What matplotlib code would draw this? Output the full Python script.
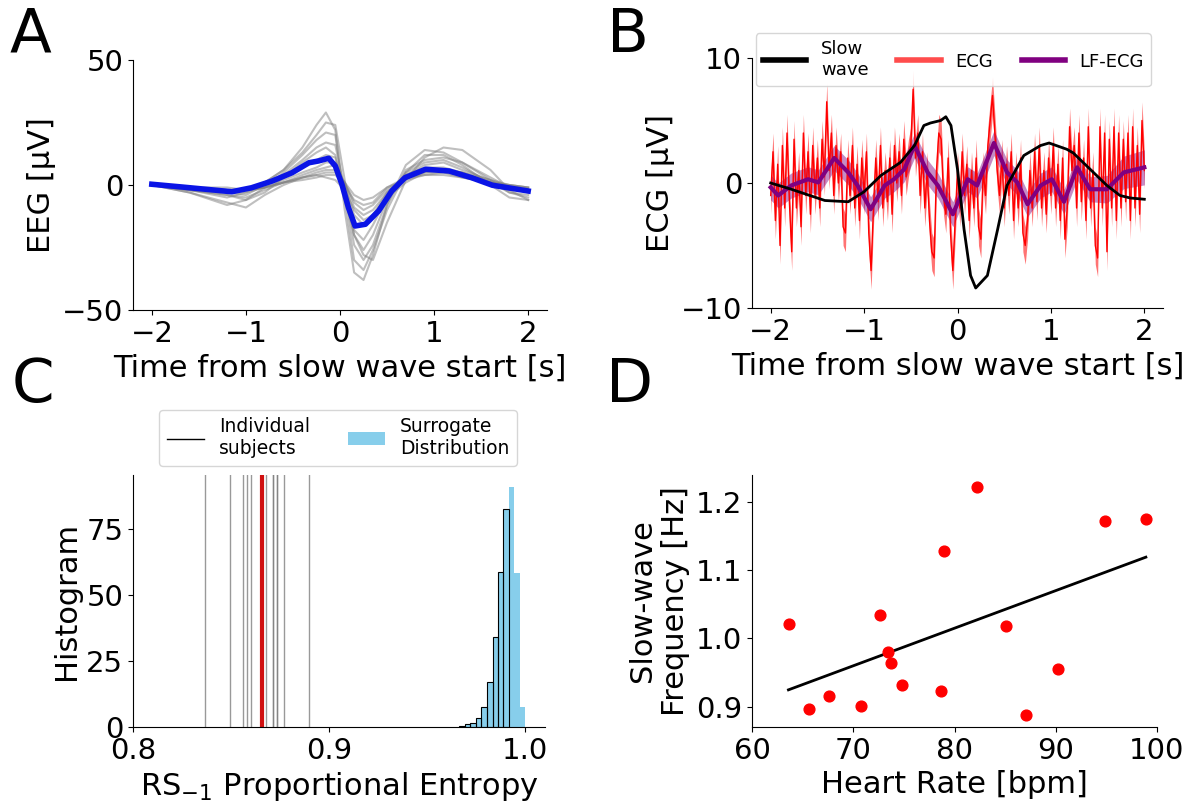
import numpy as np
import matplotlib
matplotlib.use("Agg")
import matplotlib.pyplot as plt
from matplotlib.lines import Line2D
from matplotlib.patches import Patch

# ---------------- Panel A data (EEG) ----------------
eeg_t = [-2.0, -1.6, -1.2, -1.0, -0.8, -0.6, -0.4, -0.25, -0.15, -0.05, 0.05,
         0.15, 0.25, 0.35, 0.5, 0.7, 0.9, 1.1, 1.3, 1.6, 1.8, 2.0]
eeg_subj1 = [0, -2, -5, -3, 1, 6, 15, 24, 29, 22, -10, -35, -38, -28, -8, 8, 14, 13, 9, 2, -3, -5]
eeg_subj2 = [0, -3, -8, -6, -1, 5, 12, 18, 21, 20, -5, -30, -34, -26, -10, 5, 12, 12, 8, 0, -5, -6]
eeg_subj3 = [0, -1, -3, -4, 0, 4, 10, 15, 17, 16, -2, -24, -30, -24, -8, 6, 10, 11, 9, 3, -1, -3]
eeg_subj4 = [0, -2, -4, -6, -3, 3, 9, 13, 15, 12, -4, -20, -26, -20, -6, 5, 9, 10, 7, 1, -2, -2]
eeg_subj5 = [0, -1, -2, -2, 0, 3, 7, 10, 12, 11, -3, -18, -22, -16, -5, 4, 8, 9, 6, 2, -1, -2]
eeg_subj6 = [0, -1, -2, -3, -1, 2, 5, 7, 9, 9, 0, -12, -16, -12, -3, 4, 7, 7, 5, 1, -1, -2]
eeg_subj7 = [0, -1, -2, -2, -1, 1, 4, 6, 7, 8, 1, -9, -12, -10, -3, 3, 6, 6, 5, 2, 0, -1]
eeg_subj8 = [0, -1, -1, -2, -1, 1, 3, 5, 6, 6, 1, -7, -10, -8, -2, 3, 5, 5, 4, 1, 0, -1]
eeg_subj9 = [0, -3, -7, -9, -4, 0, 3, 4, 5, 5, 0, -6, -8, -7, -1, 3, 4, 5, 3, 1, -1, -2]
eeg_subj10 = [0, -1, -2, -2, -1, 1, 2, 3, 4, 4, 1, -4, -6, -5, -1, 2, 4, 4, 3, 1, 0, -1]
eeg_subj11 = [0, -2, -3, -2, 1, 6, 13, 20, 25, 24, 2, -20, -28, -30, -15, 2, 11, 15, 14, 6, -2, -6]
eeg_subj12 = [0, -2, -4, -5, -2, 1, 3, 4, 3, 2, -2, -10, -14, -12, -5, 1, 5, 6, 5, 1, -3, -4]
eeg_subjects = [eeg_subj1, eeg_subj2, eeg_subj3, eeg_subj4, eeg_subj5, eeg_subj6,
                eeg_subj7, eeg_subj8, eeg_subj9, eeg_subj10, eeg_subj11, eeg_subj12]

eeg_mean_t = [-2.0, -1.68, -1.15, -0.94, -0.72, -0.51, -0.33, -0.23, -0.12, -0.05, 0.02,
              0.09, 0.16, 0.27, 0.41, 0.55, 0.69, 0.91, 1.16, 1.40, 1.62, 2.0]
eeg_mean = [0.3, -0.8, -2.7, -1.1, 1.6, 4.9, 8.9, 9.6, 10.7, 7.6, 0.3,
            -9.1, -16.4, -15.7, -10.4, -2.4, 2.9, 6.3, 5.6, 2.9, -0.1, -2.4]

# ---------------- Panel B data (ECG) ----------------
slow_t = [-2.0, -1.78, -1.42, -1.17, -1.0, -0.82, -0.61, -0.46, -0.36, -0.29, -0.18, -0.125,
          -0.07, 0.0, 0.07, 0.14, 0.195, 0.32, 0.43, 0.53, 0.71, 0.89, 0.98, 1.17, 1.24,
          1.42, 1.60, 1.74, 1.85, 2.0]
slow_v = [0.0, -0.5, -1.4, -1.5, -0.7, 0.6, 1.65, 3.0, 4.6, 4.8, 5.0, 5.3,
          4.6, 1.1, -3.7, -7.4, -8.4, -7.4, -3.7, -0.2, 2.2, 3.0, 3.2, 2.7, 2.4,
          1.1, -0.2, -1.0, -1.2, -1.3]

lf_t = [-2.0, -1.92, -1.78, -1.60, -1.49, -1.32, -1.17, -1.07, -0.93, -0.78, -0.68, -0.57,
        -0.46, -0.32, -0.21, -0.05, 0.11, 0.21, 0.39, 0.53, 0.64, 0.75, 0.89, 1.01, 1.14,
        1.28, 1.42, 1.60, 1.78, 2.0]
lf_v = [-0.35, -1.0, -0.2, 0.3, 0.05, 2.0, 0.85, -0.2, -2.1, -0.2, 0.3, 1.1,
        3.0, 0.85, -0.2, -2.5, 0.3, -0.2, 3.2, 0.85, 0.05, -1.7, -0.2, 0.3, -1.5,
        1.25, -0.5, -0.5, 0.85, 1.25]
lf_sem = [1.0, 1.0, 1.0, 1.0, 1.0, 1.0, 1.0, 1.0, 1.0, 1.0, 1.0, 1.0,
          1.0, 1.0, 1.0, 1.0, 1.0, 1.0, 1.0, 1.0, 1.0, 1.0, 1.0, 1.0, 1.0,
          1.0, 1.0, 1.1, 1.3, 1.4]

ecg_t0, ecg_dt = -2.0, 0.025
ecg_v = [-1.0, 2.5, -3.0, 1.5, -5.0, 3.0, -2.0, 4.0, -1.5, -5.5,
         3.5, -2.0, 1.0, -3.5, 4.0, -1.0, 2.5, -2.5, 3.0, -1.0,
         2.0, -2.0, 3.5, 0.5, 6.5, 1.0, 4.0, -1.0, 3.0, 0.0,
         2.5, -3.5, -4.0, 2.0, -1.0, 3.0, -2.0, 1.5, -3.0, 2.0,
         -1.0, 2.5, -4.0, -7.0, -2.0, 2.0, -1.5, 3.0, -2.0, 1.0,
         -1.5, 2.0, -2.5, 3.0, 0.0, 2.5, -1.0, 3.5, 0.5, 2.0,
         3.0, 7.5, 2.0, 4.0, -1.0, 2.5, -2.0, 1.0, -3.0, -5.5,
         -6.0, 1.0, 4.0, 3.5, -1.0, -2.5, 2.0, -4.0, -7.0, -3.0,
         1.0, -2.0, 2.5, -1.0, 1.5, -3.0, 1.0, -2.0, 2.0, -3.5,
         -4.5, 1.0, -1.0, 3.0, 5.0, 7.0, 4.0, 1.0, -1.0, 2.0,
         -2.0, 1.5, -1.0, 2.5, -3.0, 1.0, -2.0, 2.0, -4.0, -5.0,
         -3.0, 1.0, -2.0, 2.5, -1.5, 3.0, -2.0, 1.0, -2.5, 2.0,
         -1.0, 3.0, -2.0, 1.5, -3.0, 2.0, -4.5, -2.0, 4.5, 1.0,
         3.0, -2.0, 4.0, -1.5, 2.0, -3.0, 4.5, -2.0, 1.0, -5.0,
         -6.0, 4.5, -2.0, 4.0, -5.5, 3.5, -2.0, 4.5, -3.0, 4.0,
         -2.0, 3.5, -1.5, 4.0, -3.0, 4.5, -2.0, 3.0, -2.5, 5.0, 1.0]
ecg_sem = 1.5

# ---------------- Panel C data (entropy) ----------------
subject_entropy = [0.8369, 0.8493, 0.8559, 0.8580, 0.8602, 0.8680, 0.8714, 0.8716,
                   0.8733, 0.8735, 0.8770, 0.8898]
mean_entropy = 0.8658
surr_edges = [0.9665, 0.9694, 0.9719, 0.9748, 0.9777, 0.9806, 0.9835, 0.9862,
              0.9889, 0.9918, 0.9946, 0.9974, 1.0001]
surr_counts = [0.5, 1, 1.6, 3.3, 7.7, 17, 34, 58.6, 82.6, 90.8, 58.3, 7.7]
surr_edged = 9  # first bins drawn with black outline

# ---------------- Panel D data (scatter) ----------------
heart_rate = [63.63, 65.67, 67.59, 70.79, 72.67, 73.40, 73.73, 74.82, 78.67, 79.01,
              82.24, 85.08, 87.06, 90.26, 94.85, 98.91]
sw_freq = [1.0215, 0.8966, 0.9152, 0.9006, 1.0338, 0.9796, 0.9630, 0.9318, 0.9225, 1.1280,
           1.2221, 1.0181, 0.8878, 0.9547, 1.1714, 1.1744]
fit_x = [63.6, 98.9]
fit_y = [0.9244, 1.1187]

# ---------------- Figure ----------------
FS_TICK = 21
FS_LAB = 22
plt.rcParams['font.family'] = ['DejaVu Sans']
fig = plt.figure(figsize=(11.95, 8.05), dpi=100)

W, H = 1195.0, 805.0
def rect(l, t, r, b):
    return [l / W, 1 - b / H, (r - l) / W, (b - t) / H]

axA = fig.add_axes(rect(133, 60, 547, 310))
axB = fig.add_axes(rect(752, 58, 1163, 308))
axC = fig.add_axes(rect(133, 475, 545, 727))
axD = fig.add_axes(rect(752, 475, 1157, 727))

for ax in (axA, axB, axC, axD):
    ax.spines['top'].set_visible(False)
    ax.spines['right'].set_visible(False)
    ax.tick_params(labelsize=FS_TICK)

# Panel A
for tr in eeg_subjects:
    axA.plot(eeg_t, tr, color='gray', alpha=0.5, lw=1.5)
axA.plot(eeg_mean_t, eeg_mean, color='#0a14e6', lw=4)
axA.set_xlim(-2.2, 2.2)
axA.set_ylim(-50, 50)
axA.set_yticks([-50, 0, 50])
axA.set_xticks([-2, -1, 0, 1, 2])
axA.set_xlabel('Time from slow wave start [s]', fontsize=FS_LAB)
axA.set_ylabel('EEG [µV]', fontsize=FS_LAB)

# Panel B
ecg_t = ecg_t0 + ecg_dt * np.arange(len(ecg_v))
ecg_arr = np.array(ecg_v)
axB.fill_between(ecg_t, ecg_arr - ecg_sem, ecg_arr + ecg_sem, color='red', alpha=0.55, lw=0)
axB.plot(ecg_t, ecg_arr, color='red', lw=1)
lf_arr = np.array(lf_v)
lf_s = np.array(lf_sem)
axB.fill_between(lf_t, lf_arr - lf_s, lf_arr + lf_s, color='purple', alpha=0.45, lw=0)
axB.plot(lf_t, lf_v, color='purple', lw=3)
axB.plot(slow_t, slow_v, color='black', lw=2)
axB.set_xlim(-2.2, 2.2)
axB.set_ylim(-10, 10)
axB.set_yticks([-10, 0, 10])
axB.set_xticks([-2, -1, 0, 1, 2])
axB.set_xlabel('Time from slow wave start [s]', fontsize=FS_LAB)
axB.set_ylabel('ECG [µV]', fontsize=FS_LAB)
hB = [Line2D([], [], color='black', lw=4),
      Line2D([], [], color='red', alpha=0.7, lw=4),
      Line2D([], [], color='purple', lw=4)]
axB.legend(hB, ['Slow\nwave', 'ECG', 'LF-ECG'], ncol=3, loc='upper center',
           bbox_to_anchor=(0.49, 1.1), borderaxespad=0, fontsize=13,
           handlelength=2.4, columnspacing=1.6)

# Panel C
edges = np.array(surr_edges)
counts = np.array(surr_counts)
axC.bar(edges[:-1], counts, width=np.diff(edges), align='edge', color='skyblue', lw=0)
axC.bar(edges[:surr_edged], counts[:surr_edged], width=np.diff(edges)[:surr_edged],
        align='edge', fill=False, edgecolor='black', lw=0.8)
for v in subject_entropy:
    axC.axvline(v, color='gray', alpha=0.8, lw=1)
axC.axvline(mean_entropy, color='#d01010', lw=3)
axC.set_xlim(0.8, 1.0102)
axC.set_ylim(0, 95.4)
axC.set_xticks([0.8, 0.9, 1.0])
axC.set_yticks([0, 25, 50, 75])
axC.set_xlabel(r'RS$_{-1}$ Proportional Entropy', fontsize=FS_LAB)
axC.set_ylabel('Histogram', fontsize=FS_LAB)
hC = [Line2D([], [], color='black', lw=1), Patch(facecolor='skyblue')]
axC.legend(hC, ['Individual\nsubjects', 'Surrogate\nDistribution'], ncol=2,
           loc='upper center', bbox_to_anchor=(0.498, 1.258), borderaxespad=0,
           fontsize=13.5, columnspacing=2.0)

# Panel D
axD.scatter(heart_rate, sw_freq, color='red', s=60, zorder=3)
axD.plot(fit_x, fit_y, color='black', lw=2)
axD.set_xlim(60, 100)
axD.set_ylim(0.870, 1.239)
axD.set_xticks([60, 70, 80, 90, 100])
axD.set_yticks([0.9, 1.0, 1.1, 1.2])
axD.set_xlabel('Heart Rate [bpm]', fontsize=FS_LAB)
axD.set_ylabel('Slow-wave\nFrequency [Hz]', fontsize=FS_LAB)

# Panel letters
for lab, x, y in [('A', 30, 35), ('B', 628, 35), ('C', 33, 385), ('D', 630, 385)]:
    fig.text(x / W, 1 - y / H, lab, fontsize=44, ha='center', va='center')

fig.savefig('out.png', dpi=100)
